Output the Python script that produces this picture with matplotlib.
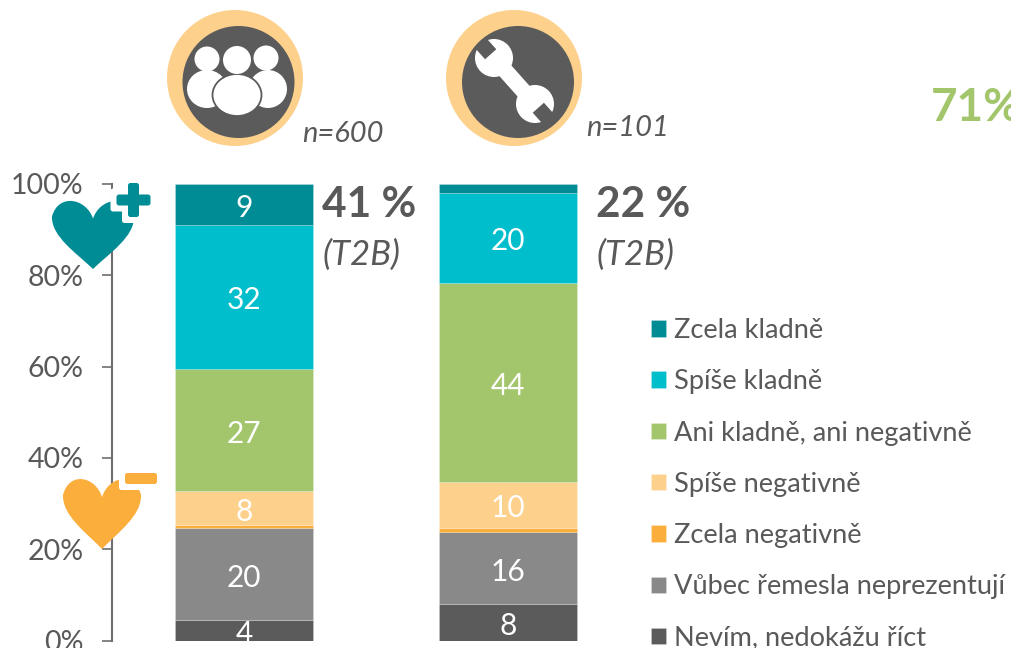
import numpy as np
import matplotlib
matplotlib.use('Agg')
import matplotlib.pyplot as plt
from matplotlib.patches import Circle, Ellipse, Polygon, PathPatch, FancyBboxPatch
from matplotlib.path import Path

# data, bottom to top of the stack
groups = ['Všichni', 'Řemeslníci']
legend_names = ['Nevím, nedokážu říct', 'Vůbec řemesla neprezentují', 'Zcela negativně',
                'Spíše negativně', 'Ani kladně, ani negativně', 'Spíše kladně', 'Zcela kladně']
group1 = [4.4, 20.3, 0.5, 7.5, 26.7, 31.7, 9.0]
group2 = [7.9, 15.8, 1.0, 10.0, 43.7, 19.6, 2.0]
colors = ['#5b5b5b', '#898989', '#fbae3c', '#fdd08c', '#a3c66d', '#00becb', '#008c95']
yticks = [0, 20, 40, 60, 80, 100]
ytick_labels = ['0%', '20%', '40%', '60%', '80%', '100%']
t2b = ['41 %', '22 %']
sizes = ['n=600', 'n=101']

GREY = '#595959'
W, H = 1011, 648
plt.rcParams['font.family'] = ['Lato', 'DejaVu Sans']

fig = plt.figure(figsize=(W / 100, H / 100), dpi=100)

# main axes, spine sits at px 112, plot runs 184..640.5 in y
ax = fig.add_axes([112 / W, 1 - 640.5 / H, (640 - 112) / W, (640.5 - 184) / H])
ax.set_xlim((112 - 244) / 264, (640 - 244) / 264)
ax.set_ylim(0, 100)

bottom = np.zeros(2)
handles = []
for i in range(len(legend_names)):
    vals = np.array([group1[i], group2[i]])
    bars = ax.bar([0, 1], vals, 0.523, bottom=bottom, color=colors[i], label=legend_names[i],
                  edgecolor=(1, 1, 1, 0.2), linewidth=0.7)
    labs = ['%.0f' % v if v >= 3 else '' for v in vals]
    ax.bar_label(bars, labels=labs, label_type='center', color='white', fontsize=21.5, padding=-2.5)
    bottom = bottom + vals
    handles.append(bars)

for s in ['top', 'right', 'bottom']:
    ax.spines[s].set_visible(False)
ax.spines['left'].set_color('#6e6e6e')
ax.spines['left'].set_linewidth(1.5)
ax.set_xticks([])
ax.set_yticks(yticks)
ax.set_yticklabels(ytick_labels, fontsize=20.5, color=GREY)
ax.tick_params(axis='y', length=7.5, width=1.2, color='#6e6e6e', pad=13)
for t in ax.get_yticklabels():
    t.set_clip_on(False)

ax.legend(handles[::-1], legend_names[::-1], loc='upper left', bbox_to_anchor=(651 / W, 1 - 318 / H),
          bbox_transform=fig.transFigure, frameon=False, fontsize=19.6, labelcolor=GREY,
          labelspacing=0.965, handlelength=0.55, handleheight=0.55, handletextpad=0.3,
          borderpad=0, borderaxespad=0)

# overlay in pixel coordinates for the icons and free text
ov = fig.add_axes([0, 0, 1, 1], zorder=5)
ov.set_xlim(0, W)
ov.set_ylim(H, 0)
ov.axis('off')
ov.patch.set_alpha(0)


def heart(cx, top, w, h, color):
    # cx = notch x, top = top of lobes
    l, r = cx - w / 2, cx + w / 2
    notch = top + h * 0.3
    tip = top + h
    verts = [(cx, notch),
             (cx - w * 0.08, top + h * 0.02), (cx - w * 0.42, top - h * 0.06), (l, top + h * 0.27),
             (l - w * 0.01, top + h * 0.55), (cx - w * 0.2, top + h * 0.78), (cx, tip),
             (cx + w * 0.2, top + h * 0.78), (r + w * 0.01, top + h * 0.55), (r, top + h * 0.27),
             (cx + w * 0.42, top - h * 0.06), (cx + w * 0.08, top + h * 0.02), (cx, notch)]
    codes = [Path.MOVETO] + [Path.CURVE4] * 12
    ov.add_patch(PathPatch(Path(verts, codes), fc=color, ec='none'))


def rbox(x0, y0, x1, y1, color, rad=2.5, pad=0):
    ov.add_patch(FancyBboxPatch((x0 + rad - pad, y0 + rad - pad), x1 - x0 - 2 * rad + 2 * pad,
                                y1 - y0 - 2 * rad + 2 * pad,
                                boxstyle='round,pad=%f,rounding_size=%f' % (rad, rad),
                                fc=color, ec='none'))


def plus(cx, cy, arm, th, color, pad=0):
    rbox(cx - arm, cy - th / 2, cx + arm, cy + th / 2, color, pad=pad)
    rbox(cx - th / 2, cy - arm, cx + th / 2, cy + arm, color, pad=pad)


# hearts with plus / minus
heart(93, 197, 82, 72, '#008c95')
plus(133.5, 200, 17, 11, 'white', pad=6)
plus(133.5, 200, 17, 11, '#008c95')
heart(102, 475, 78, 74, '#fbae3c')
rbox(125, 473, 157, 484, 'white', pad=6)
rbox(125, 473, 157, 484, '#fbae3c')

# icon discs
for cx_o, cx_i in [(235, 238.5), (514, 518)]:
    ov.add_patch(Circle((cx_o, 78), 68, fc='#fdd08c', ec='none'))
    ov.add_patch(Circle((cx_i, 82), 56, fc='#5b5b5b', ec='none'))

# people
for cx, cy, r in [(207, 59, 12.5), (266, 58, 12.5)]:
    ov.add_patch(Circle((cx, cy), r, fc='white', ec='none'))
ov.add_patch(Ellipse((207, 89), 40, 38, fc='white', ec='none'))
ov.add_patch(Ellipse((268, 89), 38, 38, fc='white', ec='none'))
ov.add_patch(Ellipse((237, 95), 49, 42, fc='white', ec='#5b5b5b', lw=1.3))
ov.add_patch(Circle((237, 60), 14, fc='white', ec='none'))

# wrench
p1 = np.array([494, 58.0])
p2 = np.array([535, 104.0])
d = (p2 - p1) / np.hypot(*(p2 - p1))
n = np.array([-d[1], d[0]])
hw = 8
ov.add_patch(Polygon([p1 + n * hw, p2 + n * hw, p2 - n * hw, p1 - n * hw], fc='white', ec='none'))
for c, sgn in [(p1, -1), (p2, 1)]:
    ov.add_patch(Circle(c, 19, fc='white', ec='none'))
    a = c + sgn * d * 5
    b = c + sgn * d * 20
    ov.add_patch(Polygon([a + n * 7.5, b + n * 7.5, b - n * 7.5, a - n * 7.5], fc='#5b5b5b', ec='none'))

# free text
for x, y, s in [(302, 134, sizes[0]), (586, 128, sizes[1])]:
    ov.text(x, y, s, fontsize=21, style='italic', color=GREY, va='center', ha='left')
for x, s in [(322, t2b[0]), (596, t2b[1])]:
    ov.text(x, 205, s, fontsize=30.5, weight='bold', color=GREY, va='center', ha='left')
    ov.text(x + 1, 255, '(T2B)', fontsize=25, style='italic', color=GREY, va='center', ha='left')
ov.text(931, 108, '71%', fontsize=33, weight='bold', color='#a3c66d', va='center', ha='left', clip_on=True)

fig.savefig('out.png', dpi=100)
